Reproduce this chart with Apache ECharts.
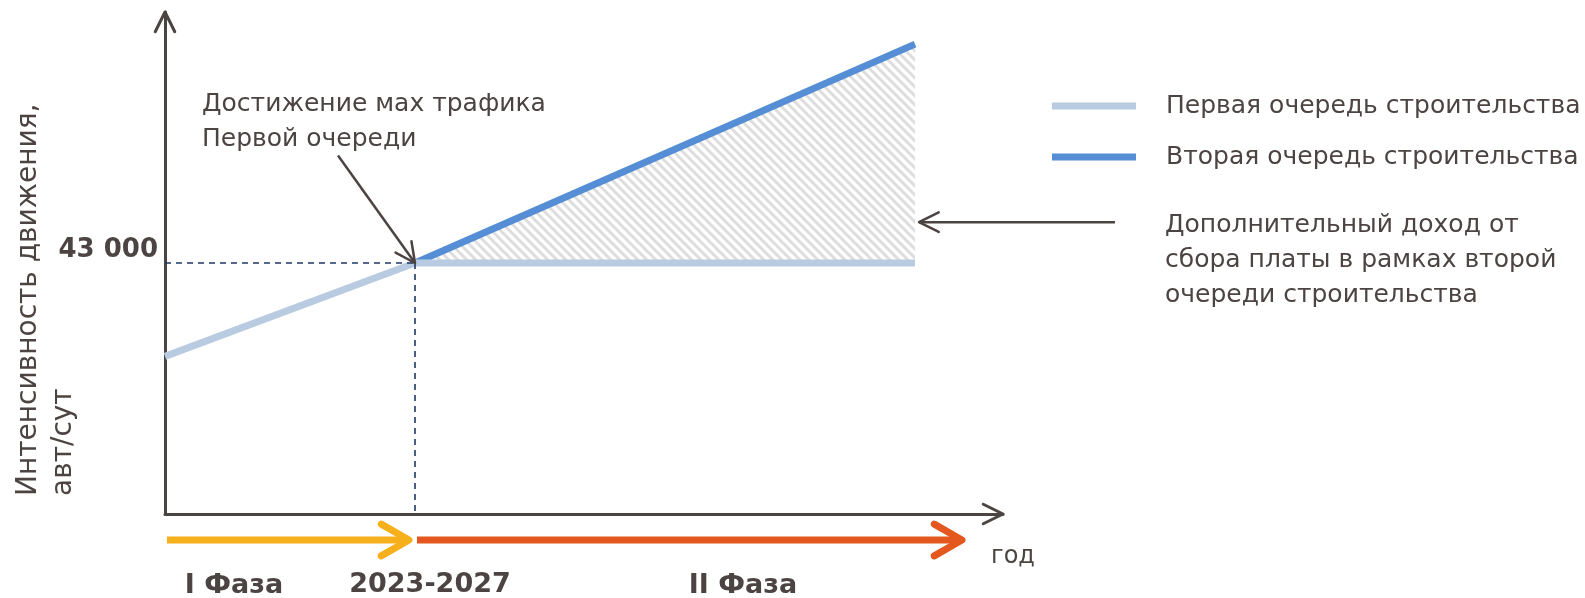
<!DOCTYPE html>
<html>
<head>
<meta charset="utf-8">
<script src="https://cdn.jsdelivr.net/npm/echarts@6/dist/echarts.min.js"></script>
<style>
  html, body { margin: 0; padding: 0; background: #ffffff; }
  #chart { width: 1585px; height: 598px; }
</style>
</head>
<body>
<div id="chart"></div>
<script>
// ---- data -------------------------------------------------------------
const seriesNames = ['Первая очередь строительства', 'Вторая очередь строительства'];
// [year index, vehicles per day]
const firstStage = [[0, 27000], [5, 43000], [15, 43000]];
const secondStage = [[5, 43000], [15, 80500]];
const peakValue = 43000;
const peakYear = 5;
const xMax = 16.76;
const yMax = 86000;
// construction phases along the time axis: [from, to]
const phases = [[0, 5], [5, 16]];
// callout pointers: [fromX, fromY, toX, toY]
const peakPointer = [[3.46, 61400, 5, 43000]];
const incomePointer = [[19, 50000, 15.08, 50000]];
const axisHeads = [[0, 0, xMax, 0], [0, 0, 0, yMax]];

const yTitle = 'Интенсивность движения,\nавт/сут';
const xTitle = 'год';
const peakNote = 'Достижение мах трафика\nПервой очереди';
const incomeNote = 'Дополнительный доход от\nсбора платы в рамках второй\nочереди строительства';
const periodLabel = '2023-2027';
const phaseLabels = ['I Фаза', 'II Фаза'];

// ---- styles -----------------------------------------------------------
const INK = '#4b4442';
const FONT = 'DejaVu Sans';
const LIGHT = '#b9cbe0';
const BLUE = '#558ed5';
const DASH = '#1f3864';
const phaseColors = ['#f5b01b', '#e4571f'];

function fmtThousands(v) {
  return String(v).replace(/\B(?=(\d{3})+(?!\d))/g, ' ');
}

// diagonal hatch tile for the extra-income area
function hatchTile() {
  const s = 9;
  const c = document.createElement('canvas');
  c.width = s; c.height = s;
  const g = c.getContext('2d');
  g.strokeStyle = '#dddddd';
  g.lineWidth = 3;
  g.beginPath();
  for (let k = -1; k <= 1; k++) {
    g.moveTo(k * s - 1, -1);
    g.lineTo(k * s + s + 1, s + 1);
  }
  g.stroke();
  return c;
}

// open chevron head at point p, pointing along angle ang
function chevron(p, ang, len, spread, color, width) {
  const a1 = ang + Math.PI - spread, a2 = ang + Math.PI + spread;
  return {
    type: 'polyline',
    shape: { points: [
      [p[0] + len * Math.cos(a1), p[1] + len * Math.sin(a1)],
      [p[0], p[1]],
      [p[0] + len * Math.cos(a2), p[1] + len * Math.sin(a2)]
    ] },
    style: { stroke: color, lineWidth: width, fill: null, lineCap: 'round', lineJoin: 'round' }
  };
}

function pointerRenderer(withShaft, width) {
  return function (params, api) {
    const a = api.coord([api.value(0), api.value(1)]);
    const b = api.coord([api.value(2), api.value(3)]);
    const ang = Math.atan2(b[1] - a[1], b[0] - a[0]);
    const children = [];
    if (withShaft) {
      children.push({ type: 'line', shape: { x1: a[0], y1: a[1], x2: b[0], y2: b[1] },
        style: { stroke: INK, lineWidth: width } });
    }
    children.push(chevron(b, ang, 22, 0.46, INK, width));
    return { type: 'group', children };
  };
}

const chart = echarts.init(document.getElementById('chart'), null, { renderer: 'canvas' });

chart.setOption({
  animation: false,
  backgroundColor: '#ffffff',
  textStyle: { fontFamily: FONT, color: INK },
  grid: [
    { left: 165, right: 582, top: 12, bottom: 83 },
    { left: 165, right: 582, top: 530, height: 20 }
  ],
  xAxis: [
    {
      type: 'value', gridIndex: 0, min: 0, max: xMax,
      axisLine: { show: true, lineStyle: { color: INK, width: 3 } },
      axisTick: { show: false },
      splitLine: { show: false },
      axisLabel: {
        show: true, customValues: [peakYear], formatter: () => periodLabel,
        margin: 57, fontSize: 27, fontWeight: 'bold', color: INK, fontFamily: FONT,
        padding: [0, 0, 0, 30]
      }
    },
    { type: 'value', gridIndex: 1, min: 0, max: xMax, show: false }
  ],
  yAxis: [
    {
      type: 'value', gridIndex: 0, min: 0, max: yMax,
      axisLine: { show: true, lineStyle: { color: INK, width: 3 } },
      axisTick: { show: false },
      splitLine: { show: false },
      axisLabel: {
        show: true, customValues: [peakValue], formatter: v => fmtThousands(v),
        margin: 7, fontSize: 26, fontWeight: 'bold', color: INK, fontFamily: FONT,
        verticalAlign: 'bottom'
      }
    },
    { type: 'value', gridIndex: 1, min: 0, max: 1, show: false }
  ],
  legend: {
    orient: 'vertical', left: 1047, top: 87,
    icon: 'rect', itemWidth: 84, itemHeight: 7, itemGap: 23,
    data: seriesNames,
    textStyle: { fontSize: 25, color: INK, fontFamily: FONT, lineHeight: 28, padding: [0, 0, 0, 25] }
  },
  series: [
    {
      name: seriesNames[0], type: 'line', data: firstStage,
      color: LIGHT, showSymbol: false, symbol: 'none', z: 3,
      lineStyle: { color: LIGHT, width: 7 }, itemStyle: { color: LIGHT },
      markLine: {
        silent: true, symbol: 'none', label: { show: false },
        lineStyle: { color: DASH, width: 1.6, type: [6, 5] },
        data: [
          [{ coord: [0, peakValue] }, { coord: [peakYear, peakValue] }],
          [{ coord: [peakYear, peakValue] }, { coord: [peakYear, 0] }]
        ]
      }
    },
    {
      name: seriesNames[1], type: 'line', data: secondStage,
      color: BLUE, showSymbol: false, symbol: 'none', z: 2,
      lineStyle: { color: BLUE, width: 7 }, itemStyle: { color: BLUE },
      areaStyle: { origin: peakValue, opacity: 1, color: { image: hatchTile(), repeat: 'repeat' } }
    },
    {
      type: 'custom', name: 'phases', xAxisIndex: 1, yAxisIndex: 1, clip: false, silent: true, z: 4,
      data: phases, encode: { x: [0, 1] },
      renderItem: function (params, api) {
        const c = phaseColors[params.dataIndex];
        const p0 = api.coord([api.value(0), 0.5]);
        const p1 = api.coord([api.value(1), 0.5]);
        const tip = [p1[0] - (params.dataIndex === 0 ? 6 : 3), p1[1]];
        return { type: 'group', children: [
          { type: 'line', shape: { x1: p0[0] + 2, y1: p0[1], x2: tip[0] - 2, y2: tip[1] },
            style: { stroke: c, lineWidth: 7 } },
          chevron(tip, 0, 32, 0.52, c, 7)
        ] };
      }
    },
    {
      type: 'custom', name: 'axisHeads', clip: false, silent: true, z: 5,
      data: axisHeads, encode: { x: [0, 2], y: [1, 3] },
      renderItem: pointerRenderer(false, 3)
    },
    {
      type: 'custom', name: 'pointers', clip: false, silent: true, z: 5,
      data: peakPointer.concat(incomePointer), encode: { x: [0, 2], y: [1, 3] },
      renderItem: pointerRenderer(true, 2.5)
    }
  ],
  graphic: [
    {
      type: 'text', x: 46, y: 496, rotation: Math.PI / 2,
      style: { text: yTitle, align: 'left', verticalAlign: 'middle',
        font: '28px "' + FONT + '"', lineHeight: 35, fill: INK }
    },
    {
      type: 'text', left: 202, top: 87,
      style: { text: peakNote, font: '25px "' + FONT + '"', lineHeight: 35, fill: INK }
    },
    {
      type: 'text', left: 1165, top: 208,
      style: { text: incomeNote, font: '25px "' + FONT + '"', lineHeight: 35, fill: INK }
    },
    {
      type: 'text', x: 1013, y: 557,
      style: { text: xTitle, align: 'center', verticalAlign: 'middle',
        font: '24px "' + FONT + '"', fill: INK }
    },
    {
      type: 'text', x: 234, y: 586,
      style: { text: phaseLabels[0], align: 'center', verticalAlign: 'middle',
        font: 'bold 27px "' + FONT + '"', fill: INK }
    },
    {
      type: 'text', x: 743, y: 586,
      style: { text: phaseLabels[1], align: 'center', verticalAlign: 'middle',
        font: 'bold 27px "' + FONT + '"', fill: INK }
    }
  ]
});
</script>
</body>
</html>
